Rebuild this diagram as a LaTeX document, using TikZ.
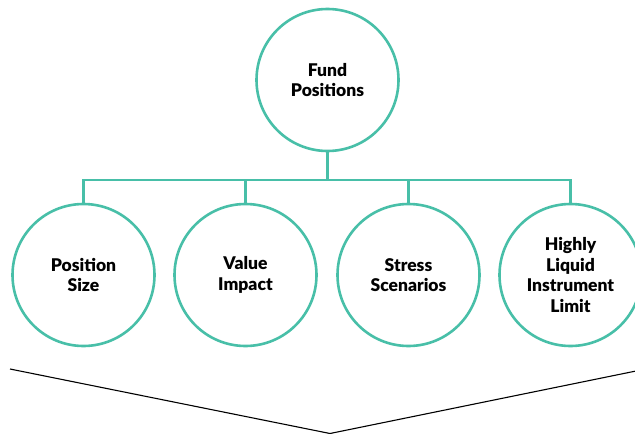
\documentclass[tikz,border=0pt]{standalone}
\usepackage{fontspec}
\setmainfont{Lato}[BoldFont={Lato Black}]
\definecolor{tealline}{RGB}{72,191,168}
\begin{document}
\begin{tikzpicture}[x=1pt,y=-1pt,
  circ/.style={circle,draw=tealline,line width=2.6pt,minimum size=142pt,inner sep=0pt,
    align=center,font=\bfseries\fontsize{17.5}{20.7}\selectfont,text=black},
  conn/.style={draw=tealline,line width=2.6pt,line join=miter}]
\useasboundingbox (0,0) rectangle (635,434);
\clip (0,0) rectangle (635,434);
\node[circ] (top) at (327.5,80) {Fund\\Positions};
\node[circ] (c1) at (83.5,275) {Position\\Size};
\node[circ] (c2) at (245.5,275) {Value\\Impact};
\node[circ] (c3) at (408.5,275) {Stress\\Scenarios};
\node[circ] (c4) at (570.5,275) {Highly\\Liquid\\Instrument\\Limit};
\coordinate (bar) at (327.5,180);
\draw[conn] (top.south) -- (bar);
\draw[conn] (c1.north) -- (c1.north |- bar) -- (c4.north |- bar) -- (c4.north);
\draw[conn] (c2.north) -- (c2.north |- bar);
\draw[conn] (c3.north) -- (c3.north |- bar);
\coordinate (vl) at (10,369);
\coordinate (vb) at (330,433.5);
\coordinate (vr) at (636,371);
\draw[black,line width=1.1pt] (vl) -- (vb) -- (vr);
\end{tikzpicture}
\end{document}
